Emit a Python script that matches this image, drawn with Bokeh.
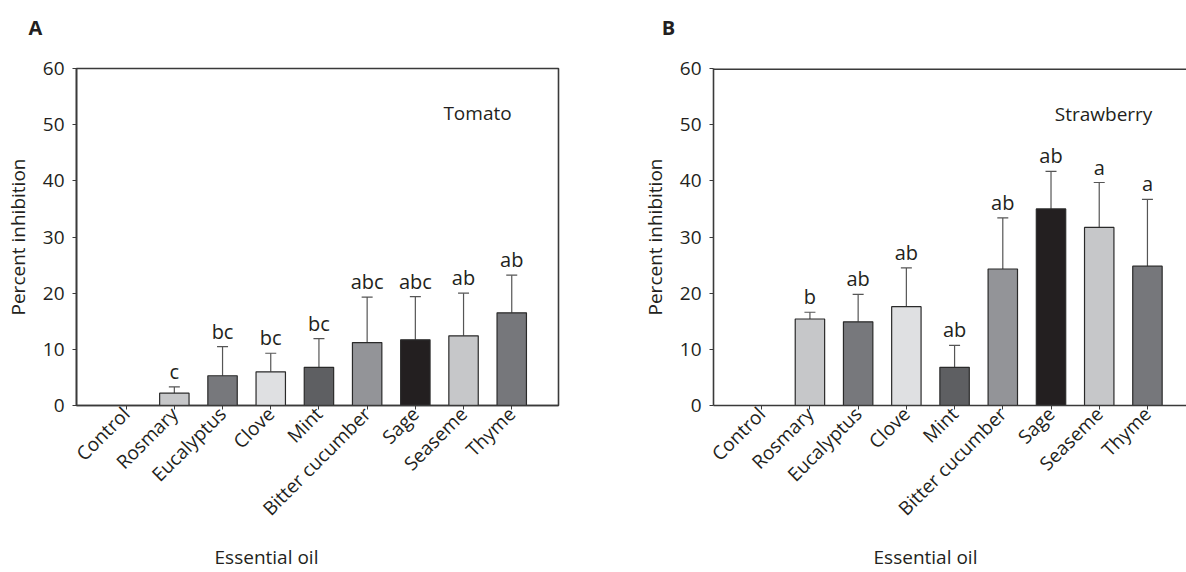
from bokeh.plotting import figure
from bokeh.models import ColumnDataSource, Whisker, TeeHead, FixedTicker, Span
from bokeh.layouts import row, column
from bokeh.embed import file_html
from bokeh.resources import INLINE
from bokeh.core.properties import value
from math import pi

oils = ["Control", "Rosmary", "Eucalyptus", "Clove", "Mint",
        "Bitter cucumber", "Sage", "Seaseme", "Thyme"]
bar_colors = ["#ffffff", "#c6c7c9", "#77787c", "#dfe0e2", "#5e5f62",
              "#939498", "#231f20", "#c6c7c9", "#76777b"]

tomato_mean = [0, 2.2, 5.3, 6.0, 6.8, 11.2, 11.7, 12.4, 16.5]
tomato_err = [0, 1.1, 5.2, 3.3, 5.1, 8.1, 7.7, 7.6, 6.7]
tomato_letters = ["", "c", "bc", "bc", "bc", "abc", "abc", "ab", "ab"]

straw_mean = [0, 15.4, 14.9, 17.6, 6.8, 24.3, 35.0, 31.7, 24.8]
straw_err = [0, 1.2, 4.9, 6.9, 3.9, 9.1, 6.7, 8.0, 11.9]
straw_letters = ["", "b", "ab", "ab", "ab", "ab", "ab", "a", "a"]

panel_tags = ["A", "B"]
x_title = "Essential oil"
y_title = "Percent inhibition"
y_ticks = [0, 10, 20, 30, 40, 50, 60]

FONT = "Open Sans"
TXT = "#231f20"
AX = "#3a3a3a"
W = 1186
TOP_H = 40
BOT_H = 32
MAIN_H = 572 - TOP_H - BOT_H


def strip(h):
    s = figure(width=W, height=h, x_range=(0, W), y_range=(0, h),
               x_axis_type=None, y_axis_type=None, title=None,
               output_backend="svg", toolbar_location=None,
               min_border=0)
    s.grid.grid_line_color = None
    s.outline_line_alpha = 0
    s.background_fill_color = "white"
    s.border_fill_color = "white"
    return s


def make_panel(means, errs, letters, crop, width, bl, br, x_rng,
               crop_xy, full_box):
    p = figure(width=width, height=MAIN_H, x_range=x_rng, y_range=(0, 60),
               output_backend="svg", toolbar_location=None, title=None,
               min_border_left=bl, min_border_right=br,
               min_border_top=68 - TOP_H, min_border_bottom=MAIN_H - (405 - TOP_H))
    p.grid.grid_line_color = None
    p.background_fill_color = "white"
    p.border_fill_color = "white"
    if full_box:
        p.outline_line_color = AX
        p.outline_line_width = 1.6
    else:
        p.outline_line_alpha = 0
        p.add_layout(Span(location=60, dimension="width", line_color=AX,
                          line_width=3))

    idx = [i for i, m in enumerate(means) if m > 0]
    src = ColumnDataSource(dict(
        x=[i for i in idx],
        top=[means[i] for i in idx],
        upper=[means[i] + errs[i] for i in idx],
        color=[bar_colors[i] for i in idx],
        lab=[letters[i] for i in idx],
    ))
    p.add_layout(Whisker(source=src, base="x", lower="top", upper="upper",
                         lower_head=None,
                         upper_head=TeeHead(size=11, line_color="#555555",
                                            line_width=1.2),
                         line_color="#555555", line_width=1.2))
    p.vbar(x="x", top="top", bottom=0, width=0.61, source=src,
           fill_color="color", line_color="#2a2a2a", line_width=1.2)
    p.text(x="x", y="upper", text="lab", source=src, text_align="center",
           text_baseline="bottom", y_offset=-2,
           text_font=value(FONT), text_font_size="20px", text_color=TXT)
    p.text(x=[crop_xy[0]], y=[crop_xy[1]], text=[crop], text_align="center",
           text_baseline="middle", text_font=value(FONT),
           text_font_size="19px", text_color=TXT)

    p.yaxis.ticker = FixedTicker(ticks=y_ticks)
    p.xaxis.ticker = FixedTicker(ticks=list(range(len(oils))))
    p.xaxis.major_label_overrides = {i: o for i, o in enumerate(oils)}
    p.xaxis.major_label_orientation = pi / 4
    for ax in (p.xaxis, p.yaxis):
        ax.axis_line_color = AX
        ax.axis_line_width = 1.6
        ax.major_tick_line_color = AX
        ax.major_tick_in = 0
        ax.major_tick_out = 4
        ax.minor_tick_line_color = None
        ax.major_label_text_font = FONT
        ax.major_label_text_font_size = "19px"
        ax.major_label_text_color = TXT
        ax.axis_label_text_font = FONT
        ax.axis_label_text_font_size = "19px"
        ax.axis_label_text_color = TXT
        ax.axis_label_text_font_style = "normal"
    p.yaxis.major_label_standoff = 8
    p.xaxis.major_label_standoff = 1
    p.yaxis.axis_label = y_title
    p.yaxis.axis_label_standoff = 9
    return p


pa = make_panel(tomato_mean, tomato_err, tomato_letters, "Tomato",
                590, 76, 32, (-1.03, 8.97), (7.29, 52.1), True)
pb = make_panel(straw_mean, straw_err, straw_letters, "Strawberry",
                596, 123, 0, (-1.0, 8.81), (7.09, 51.9), False)

top = strip(TOP_H)
top.text(x=[35, 668], y=[TOP_H - 27, TOP_H - 27], text=panel_tags,
         text_align="center", text_baseline="middle",
         text_font=value(FONT), text_font_style="bold",
         text_font_size="20px", text_color=TXT)

bot = strip(BOT_H)
bot.text(x=[266, 925], y=[572 - 556, 572 - 556], text=[x_title, x_title],
         text_align="center", text_baseline="middle",
         text_font=value(FONT), text_font_size="19px", text_color=TXT)

layout = column(top, row(pa, pb, spacing=0), bot, spacing=0)
open("out.html", "w").write(file_html(layout, INLINE))
